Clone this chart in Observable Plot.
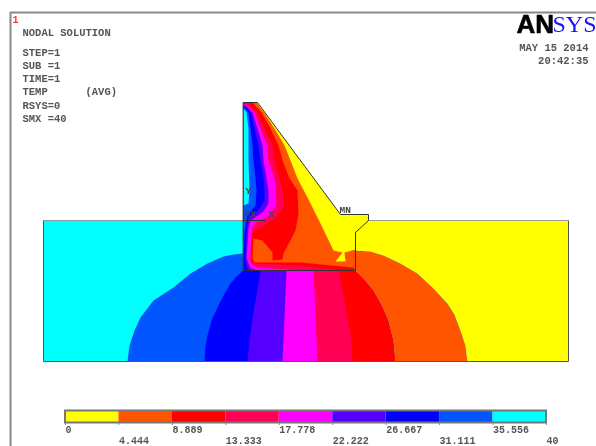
<!DOCTYPE html>
<html><head><meta charset="utf-8">
<script src="https://cdn.jsdelivr.net/npm/d3@7"></script>
<script src="https://cdn.jsdelivr.net/npm/@observablehq/plot@0.6"></script>
<style>html,body{margin:0;padding:0;background:#fff;overflow:hidden}svg{display:block;filter:blur(.45px)}</style>
</head><body><div id="c"></div><script>
const bandValues=[0,4.444,8.889,13.333,17.778,22.222,26.667,31.111,35.556,40];
const bandColors=["#ffff00","#ff5500","#ff0000","#ff0055","#ff00ff","#5500ff","#0000ff","#0055ff","#00ffff"];
// Soil block: contour polygons
const soilBase=[[43,220],[568,220],[568,361],[43,361]];
const soilBlue2=[[127,361],[129,345],[134,330],[140,317],[153,300],[173,287],[190,273],[207,263],[223,256],[233,254],[243,253],[355,253],[355,361]];
const soilBlue=[[204,361],[205,345],[207,335],[211,320],[217,307],[223,295],[230,283],[236,276],[243,270],[355,270],[355,361]];
const soilPurple=[[247,361],[249,340],[252,317],[256,295],[260,270],[355,270],[355,361]];
const soilMagenta=[[282,361],[284,317],[286,270],[355,270],[355,361]];
const soilCrimson=[[317,361],[315,317],[313,270],[355,270],[355,361]];
const soilRed=[[352,361],[351,340],[347,317],[343,295],[338,270],[355,270],[364,279],[373,290],[381,304],[388,320],[393,340],[395,361]];
const soilOrange=[[395,361],[393,340],[388,320],[381,304],[373,290],[364,279],[355,270],[355,250],[370,251],[383,255],[400,263],[417,273],[433,288],[447,303],[454,314],[460,330],[465,345],[467,361]];
const soilYellow=[[467,361],[465,345],[460,330],[454,314],[447,303],[433,288],[417,273],[400,263],[383,255],[370,251],[355,250],[355,220],[568,220],[568,361]];
// Dam section: nested contour polygons
const damYellow=[[243,102],[257,102],[340,214],[368,214],[368,220],[355,232],[355,270],[243,270]];
const damOrange=[[256,102],[263.5,112],[274,128],[284,145],[290,160],[297,178],[307,197],[320,223],[333,250],[342,252],[335,261],[345,261],[344,252],[355,249],[355,270],[243,270],[243,102]];
const damRed=[[252,102],[261,112],[270,128],[278,145],[282,160],[289,178],[297,190],[298,213],[295,230],[283,253],[282,259],[272,260],[272,252],[262,240],[253,238],[252,258],[254,262],[300,262],[353,267],[355,270],[243,270],[243,102]];
const damCrimson=[[248,103],[257,112],[264,128],[272,145],[274,160],[279,178],[282,190],[283,207],[275,218],[258,228],[252,232],[250,240],[249,258],[252,263],[300,265],[340,270],[243,270],[243,103]];
const damMagenta=[[246,104],[254,112],[260,128],[267,145],[268,160],[274,178],[275,190],[276,203],[270,215],[255,222],[252,227],[250,250],[250,262],[257,267],[303,270],[243,270],[243,104]];
const damPurple=[[245,105],[252,112],[257,128],[262,145],[263,160],[266,178],[268,190],[268,203],[262,212],[250,220],[248,228],[246,258],[250,268],[258,270],[243,270],[243,105]];
const damBlue=[[244,106],[250,112],[254,128],[258,145],[260,160],[263,178],[264,190],[264,200],[258,210],[248,217],[246,230],[245,262],[248,270],[243,270],[243,106]];
const damBlue2=[[244,107],[248,112],[250,128],[252,145],[253,160],[255,178],[256,190],[255,205],[247,215],[244,230],[243,270],[243,107]];
const damCyan=[[243,108],[246,112],[248,128],[248,160],[249,190],[248,203],[243,205]];
const soilEdge=[[43,220],[43,361],[568,361],[568,220]];
const soilTopLeft=[[43,220],[243,220]];
const soilTopRight=[[368,220],[568,220]];
const triad=[[243,220],[265,220]];
const frame=[[10,400],[10,12],[596,12]];
const infoLines=["NODAL SOLUTION","STEP=1","SUB =1","TIME=1","TEMP      (AVG)","RSYS=0","SMX =40"];
const infoRows=[32,52,65,78,91,105,118];
const stamp=["MAY 15 2014","20:42:35"];
const stampRows=[47,60];
const markers=[["MN",339,209],["X",268,213],["MX",244,213],["Y",245,190]];

const [Y,O,R,C,M,P,B,B2,CY]=bandColors;
const regions=[[soilBase,CY],[soilBlue2,B2],[soilBlue,B],[soilPurple,P],[soilMagenta,M],[soilCrimson,C],[soilRed,R],[soilOrange,O],[soilYellow,Y],
 [damYellow,Y],[damOrange,O],[damRed,R],[damCrimson,C],[damMagenta,M],[damPurple,P],[damBlue,B],[damBlue2,B2],[damCyan,CY]];
const mono={fontFamily:"Liberation Mono",fontWeight:"bold",fill:"#555",textAnchor:"start"};
const fx=d=>d[0],fy=d=>d[1];
const main=Plot.plot({width:596,height:400,margin:0,x:{domain:[0,596],axis:null},y:{domain:[400,0],axis:null},marks:[
 ...regions.map(([pts,c])=>Plot.line(pts,{x:fx,y:fy,fill:c,stroke:"none",curve:"linear-closed"})),
 Plot.line(soilEdge,{x:fx,y:fy,stroke:"#555",strokeWidth:1}),
 Plot.line(soilTopLeft,{x:fx,y:fy,stroke:"#999",strokeWidth:1}),
 Plot.line(soilTopRight,{x:fx,y:fy,stroke:"#999",strokeWidth:1}),
 Plot.line(damYellow,{x:fx,y:fy,stroke:"#333",strokeWidth:1,curve:"linear-closed"}),
 Plot.line(triad,{x:fx,y:fy,stroke:"#333",strokeWidth:1}),
 Plot.line(frame,{x:fx,y:fy,stroke:"#888",strokeWidth:2}),
 Plot.text(["1"],{x:15,y:19,text:d=>d,fill:"#f33",fontFamily:"Liberation Mono",fontSize:10,fontWeight:"bold"}),
 Plot.text(infoLines,{x:22,y:(d,i)=>infoRows[i],text:d=>d,fontSize:10.5,...mono}),
 Plot.text(stamp,{x:588,y:(d,i)=>stampRows[i],text:d=>d,fontSize:10.5,...mono,textAnchor:"end"}),
 Plot.text(markers,{x:d=>d[1],y:d=>d[2],text:d=>d[0],fontSize:9.5,...mono,fill:"#444"}),
 Plot.text(["AN"],{x:516,y:24,text:d=>d,fontFamily:"Liberation Sans",fontWeight:900,fontSize:26,fill:"#000",textAnchor:"start",stroke:"#000",strokeWidth:.6}),
 Plot.text(["SYS"],{x:552,y:24,text:d=>d,fontFamily:"Liberation Serif",fontSize:24,fill:"#1414ff",textAnchor:"start"})
]});
const segs=bandColors.map((c,i)=>({a:bandValues[i],b:bandValues[i+1],c}));
const legend=Plot.plot({width:596,height:46,marginTop:0,marginBottom:0,marginLeft:65,marginRight:50,
 x:{domain:[0,40],axis:null},y:{domain:[0,46],range:[0,46],axis:null},color:{type:"identity"},marks:[
 Plot.rect(segs,{x1:"a",x2:"b",y1:11,y2:22,fill:"c"}),
 Plot.rect([0],{x1:0,x2:40,y1:10.5,y2:22.5,fill:"none",stroke:"#777",strokeWidth:2}),
 Plot.ruleX(bandValues,{x:d=>d,y1:23,y2:25,stroke:"#888"}),
 Plot.ruleX([-4.57],{y1:0,y2:46,stroke:"#888",strokeWidth:2}),
 Plot.text(bandValues,{x:d=>d,y:(d,i)=>i%2?40:29,text:(d)=>String(d),fontSize:10,...mono})
]});
document.getElementById("c").append(main,legend);
</script></body></html>
